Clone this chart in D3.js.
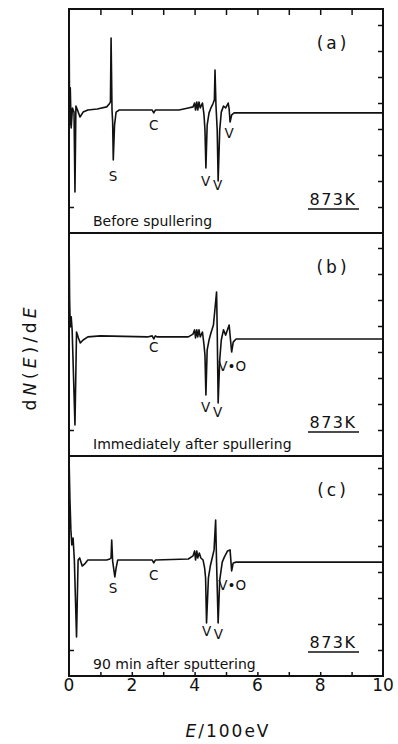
<!DOCTYPE html>
<html><head><meta charset="utf-8">
<script src="https://cdn.jsdelivr.net/npm/d3@7"></script>
<style>body{margin:0;background:#fff}svg{display:block}text{font-family:"DejaVu Sans",sans-serif;fill:#111}</style>
</head><body><svg id="c" width="398" height="744"></svg>
<script>
// ---- data (E in 100 eV, dN/dE in arbitrary chart units, baseline ~4.6) ----
const panelIds = ["(a)", "(b)", "(c)"];
const panelNotes = ["Before spullering", "Immediately after spullering", "90 min after sputtering"];
const tempLabel = "873K";
const xTickLabels = ["0", "2", "4", "6", "8", "10"];
const xTickValues = [0, 2, 4, 6, 8, 10];

const energyA = [0,0.02,0.04,0.07,0.11,0.16,0.19,0.22,0.27,0.35,0.45,0.6,0.9,1.2,1.28,1.32,1.34,1.37,1.39,1.41,1.45,1.5,1.6,2.0,2.4,2.65,2.7,2.75,3.0,3.5,3.8,3.95,4.0,4.03,4.07,4.1,4.14,4.18,4.25,4.3,4.33,4.36,4.4,4.46,4.52,4.58,4.63,4.65,4.68,4.72,4.75,4.8,4.85,4.92,4.99,5.07,5.1,5.13,5.18,5.26,5.4,6,7,8,9,10];
const signalA = [8.6,4.15,5.58,4.04,4.81,4.65,1.58,4.88,4.73,4.46,4.65,4.73,4.77,4.85,4.96,5.04,7.5,4.73,4.27,2.81,4.15,4.65,4.73,4.73,4.73,4.73,4.62,4.73,4.73,4.73,4.81,4.85,5.0,4.73,5.04,4.73,5.04,4.81,5.0,4.54,3.96,2.5,4.15,4.62,4.81,4.96,5.12,6.27,4.92,3.96,2.0,3.96,4.65,4.88,4.81,5.0,4.77,4.27,4.54,4.62,4.62,4.62,4.62,4.62,4.62,4.62];

const energyB = [0,0.02,0.04,0.07,0.1,0.19,0.24,0.3,0.36,0.45,0.6,1.0,2.5,2.65,2.7,2.75,2.8,3.8,3.95,4.0,4.03,4.07,4.1,4.14,4.18,4.25,4.3,4.33,4.36,4.4,4.46,4.52,4.6,4.7,4.72,4.75,4.8,4.85,4.92,4.99,5.1,5.18,5.23,5.32,6,7,8,9,10];
const signalB = [8.6,6.0,4.96,5.35,4.85,1.19,4.77,4.54,4.35,4.46,4.58,4.62,4.58,4.62,4.5,4.62,4.58,4.58,4.69,4.85,4.54,4.85,4.58,4.85,4.58,4.77,4.27,3.88,2.35,4.08,4.46,4.73,5.04,6.31,4.85,2.04,3.69,4.46,4.85,4.65,5.04,4.0,4.38,4.5,4.5,4.5,4.5,4.5,4.5];

const energyC = [0,0.03,0.06,0.09,0.13,0.17,0.24,0.29,0.34,0.42,0.5,0.6,1.2,1.3,1.34,1.36,1.39,1.46,1.5,1.55,1.7,2.65,2.7,2.75,3.8,3.95,4.0,4.03,4.07,4.1,4.15,4.2,4.27,4.32,4.35,4.38,4.44,4.5,4.56,4.62,4.67,4.7,4.75,4.8,4.88,4.95,5.05,5.13,5.18,5.23,5.32,6,7,8,9,10];
const signalC = [8.6,6.77,5.62,5.04,5.31,4.46,1.5,4.46,4.54,4.23,4.31,4.46,4.46,4.5,4.54,5.23,4.42,3.81,4.15,4.46,4.46,4.46,4.35,4.46,4.5,4.62,4.81,4.46,4.81,4.54,4.73,4.54,4.46,4.15,3.77,2.04,3.77,4.23,4.54,4.85,6.0,4.35,2.04,3.69,4.38,4.58,4.81,4.85,4.04,4.35,4.38,4.38,4.38,4.38,4.38,4.38];

// peak labels: [E, value, text]
const peakLabelsA = [[1.4, 2.2, "S"], [2.7, 4.15, "C"], [4.35, 2.0, "V"], [4.73, 1.85, "V"], [5.1, 3.85, "V"]];
const peakLabelsB = [[2.7, 4.2, "C"], [4.35, 1.9, "V"], [4.73, 1.7, "V"], [5.2, 3.45, "V•O"]];
const peakLabelsC = [[1.4, 3.4, "S"], [2.7, 3.9, "C"], [4.38, 1.75, "V"], [4.76, 1.6, "V"], [5.2, 3.5, "V•O"]];

const energies = [energyA, energyB, energyC];
const signals = [signalA, signalB, signalC];
const peakLabels = [peakLabelsA, peakLabelsB, peakLabelsC];

// ---- layout ----
const svg = d3.select("#c");
const left = 69, right = 383;
const bounds = [[9, 233], [233, 456], [456, 676]];
const unit = 26;
const x = d3.scaleLinear().domain([0, 10]).range([left, right]);

const defs = svg.append("defs");

bounds.forEach((b, i) => {
  const [top, bottom] = b;
  const y = d3.scaleLinear().domain([0, (bottom - top) / unit]).range([bottom, top]);
  const g = svg.append("g");
  defs.append("clipPath").attr("id", "clip" + i)
    .append("rect").attr("x", left).attr("y", top).attr("width", right - left).attr("height", bottom - top);

  const pts = energies[i].map((e, k) => [e, signals[i][k]]);
  g.append("path").datum(pts)
    .attr("clip-path", `url(#clip${i})`)
    .attr("d", d3.line().x(d => x(d[0])).y(d => y(Math.min(d[1], y.domain()[1]))))
    .attr("fill", "none").attr("stroke", "#111").attr("stroke-width", 1.6).attr("stroke-linejoin", "round");

  // right ticks (inward)
  const rt = d3.axisLeft(y).tickValues([1,2,3,4,5,6,7,8]).tickSize(5).tickFormat("");
  g.append("g").attr("transform", `translate(${right},0)`).call(rt)
    .call(s => s.select(".domain").remove())
    .selectAll("line").attr("stroke", "#111").attr("stroke-width", 1.5);
  // left tick
  const lt = d3.axisRight(y).tickValues([1]).tickSize(5).tickFormat("");
  g.append("g").attr("transform", `translate(${left},0)`).call(lt)
    .call(s => s.select(".domain").remove())
    .selectAll("line").attr("stroke", "#111").attr("stroke-width", 1.5);

  // panel id
  g.append("text").attr("x", 333).attr("y", top + 40).attr("text-anchor", "middle")
    .attr("font-size", 17).attr("letter-spacing", 3).text(panelIds[i]);
  // temperature
  g.append("text").attr("x", 333).attr("y", bottom - 28).attr("text-anchor", "middle")
    .attr("font-size", 16).attr("letter-spacing", 1.5).text(tempLabel);
  g.append("line").attr("x1", 308).attr("x2", 359).attr("y1", bottom - 24).attr("y2", bottom - 24)
    .attr("stroke", "#111").attr("stroke-width", 1.5);
  // note
  g.append("text").attr("x", 93).attr("y", bottom - 7).attr("font-size", 14)
    .attr("font-family", "Liberation Sans, sans-serif").text(panelNotes[i]);
  // peak labels
  peakLabels[i].forEach(p => {
    g.append("text").attr("x", x(p[0])).attr("y", y(p[1]) + 5).attr("text-anchor", "middle")
      .attr("font-size", 13.5).attr("font-family", "Liberation Sans, sans-serif").text(p[2]);
  });
});

// frame and separators
svg.append("rect").attr("x", left).attr("y", bounds[0][0]).attr("width", right - left)
  .attr("height", bounds[2][1] - bounds[0][0]).attr("fill", "none").attr("stroke", "#111").attr("stroke-width", 2);
[bounds[0][1], bounds[1][1]].forEach(yy => {
  svg.append("line").attr("x1", left).attr("x2", right).attr("y1", yy).attr("y2", yy)
    .attr("stroke", "#111").attr("stroke-width", 2);
});

// top ticks on panel (a)
svg.append("g").attr("transform", `translate(0,${bounds[0][0]})`)
  .call(d3.axisBottom(x).tickValues(d3.range(1, 10)).tickSize(6).tickFormat(""))
  .call(s => s.select(".domain").remove())
  .selectAll("line").attr("stroke", "#111").attr("stroke-width", 1.5);
// bottom ticks (inward)
svg.append("g").attr("transform", `translate(0,${bounds[2][1]})`)
  .call(d3.axisTop(x).tickValues(d3.range(1, 10)).tickSize(4).tickFormat(""))
  .call(s => s.select(".domain").remove())
  .selectAll("line").attr("stroke", "#111").attr("stroke-width", 1.5);

// x tick labels
svg.append("g").selectAll("text").data(xTickValues).join("text")
  .attr("x", (d) => x(d)).attr("y", 691).attr("text-anchor", "middle")
  .attr("font-size", 17).text((d, k) => xTickLabels[k]);

// axis titles
const xt = svg.append("text").attr("x", 228).attr("y", 737).attr("text-anchor", "middle")
  .attr("font-size", 17).attr("letter-spacing", 2);
xt.append("tspan").attr("font-style", "italic").text("E");
xt.append("tspan").text("/100eV");

const yt = svg.append("text").attr("transform", "translate(36,357) rotate(-90)").attr("text-anchor", "middle")
  .attr("font-size", 17).attr("letter-spacing", 4);
yt.append("tspan").text("d");
yt.append("tspan").attr("font-style", "italic").text("N");
yt.append("tspan").text("(");
yt.append("tspan").attr("font-style", "italic").text("E");
yt.append("tspan").text(")/d");
yt.append("tspan").attr("font-style", "italic").text("E");
</script></body></html>
